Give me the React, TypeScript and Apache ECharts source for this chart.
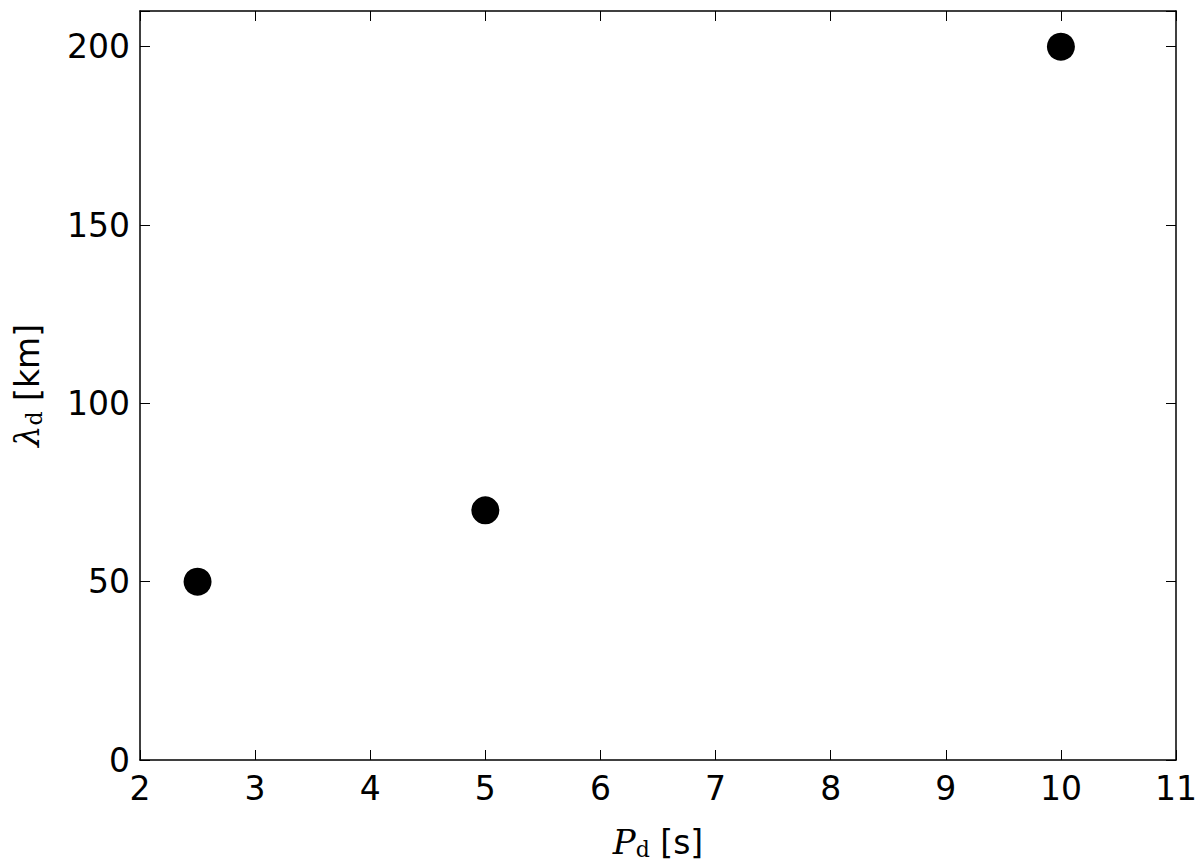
import React, { useEffect, useRef } from "react";
import * as echarts from "echarts";

const periods = [2.5, 5, 10];
const wavelengths = [50, 70, 200];
const xTicks = [2, 3, 4, 5, 6, 7, 8, 9, 10, 11];
const yTicks = [0, 50, 100, 150, 200];

const FONT = "DejaVu Sans";
const SERIF = "DejaVu Serif";

export default function App() {
  const ref = useRef<HTMLDivElement>(null);
  useEffect(() => {
    if (!ref.current) return;
    const chart = echarts.init(ref.current, undefined, { renderer: "svg" });
    const axisLine = { show: true, onZero: false, lineStyle: { color: "#000", width: 1.5 } };
    const tick = { show: true, inside: true, length: 10, lineStyle: { color: "#000", width: 1 } };
    chart.setOption({
      animation: false,
      backgroundColor: "#fff",
      grid: { left: 140, right: 22, top: 11, bottom: 108, containLabel: false },
      xAxis: [
        {
          type: "value",
          min: 2,
          max: 11,
          interval: 1,
          axisLine,
          axisTick: tick,
          splitLine: { show: false },
          axisLabel: {
            color: "#000",
            fontFamily: FONT,
            fontSize: 33,
            margin: 12,
            formatter: (v: number) => (xTicks.includes(v) ? String(v) : ""),
          },
          name: "{p|P}{sub|d}{t|\u00a0[s]}",
          nameLocation: "middle",
          nameGap: 64,
          nameTextStyle: {
            rich: {
              p: { fontFamily: SERIF, fontStyle: "italic", fontSize: 34, color: "#000" },
              sub: { fontFamily: SERIF, fontSize: 22, color: "#000", padding: [14, 0, 0, 0] },
              t: { fontFamily: FONT, fontSize: 33, color: "#000" },
            },
          },
        },
        {
          type: "value",
          position: "top",
          min: 2,
          max: 11,
          interval: 1,
          axisLine,
          axisTick: tick,
          axisLabel: { show: false },
          splitLine: { show: false },
        },
      ],
      yAxis: [
        {
          type: "value",
          min: 0,
          max: 210,
          interval: 50,
          axisLine,
          axisTick: tick,
          splitLine: { show: false },
          axisLabel: {
            color: "#000",
            fontFamily: FONT,
            fontSize: 33,
            margin: 10,
            formatter: (v: number) => (yTicks.includes(v) ? String(v) : ""),
          },
          name: "{l|λ}{sub|d}{t|\u00a0[km]}",
          nameLocation: "middle",
          nameGap: 95,
          nameTextStyle: {
            rich: {
              l: { fontFamily: SERIF, fontStyle: "italic", fontSize: 34, color: "#000" },
              sub: { fontFamily: SERIF, fontSize: 22, color: "#000", padding: [14, 0, 0, 0] },
              t: { fontFamily: FONT, fontSize: 33, color: "#000" },
            },
          },
        },
        {
          type: "value",
          position: "right",
          min: 0,
          max: 210,
          interval: 50,
          axisLine,
          axisTick: tick,
          axisLabel: { show: false },
          splitLine: { show: false },
        },
      ],
      series: [
        {
          type: "scatter",
          symbol: "circle",
          symbolSize: 28,
          itemStyle: { color: "#000", opacity: 1 },
          data: periods.map((p, i) => [p, wavelengths[i]]),
        },
      ],
    });
    return () => chart.dispose();
  }, []);
  return (
    <div
      ref={ref}
      style={{ position: "absolute", left: 0, top: 0, width: 1200, height: 868 }}
    />
  );
}
